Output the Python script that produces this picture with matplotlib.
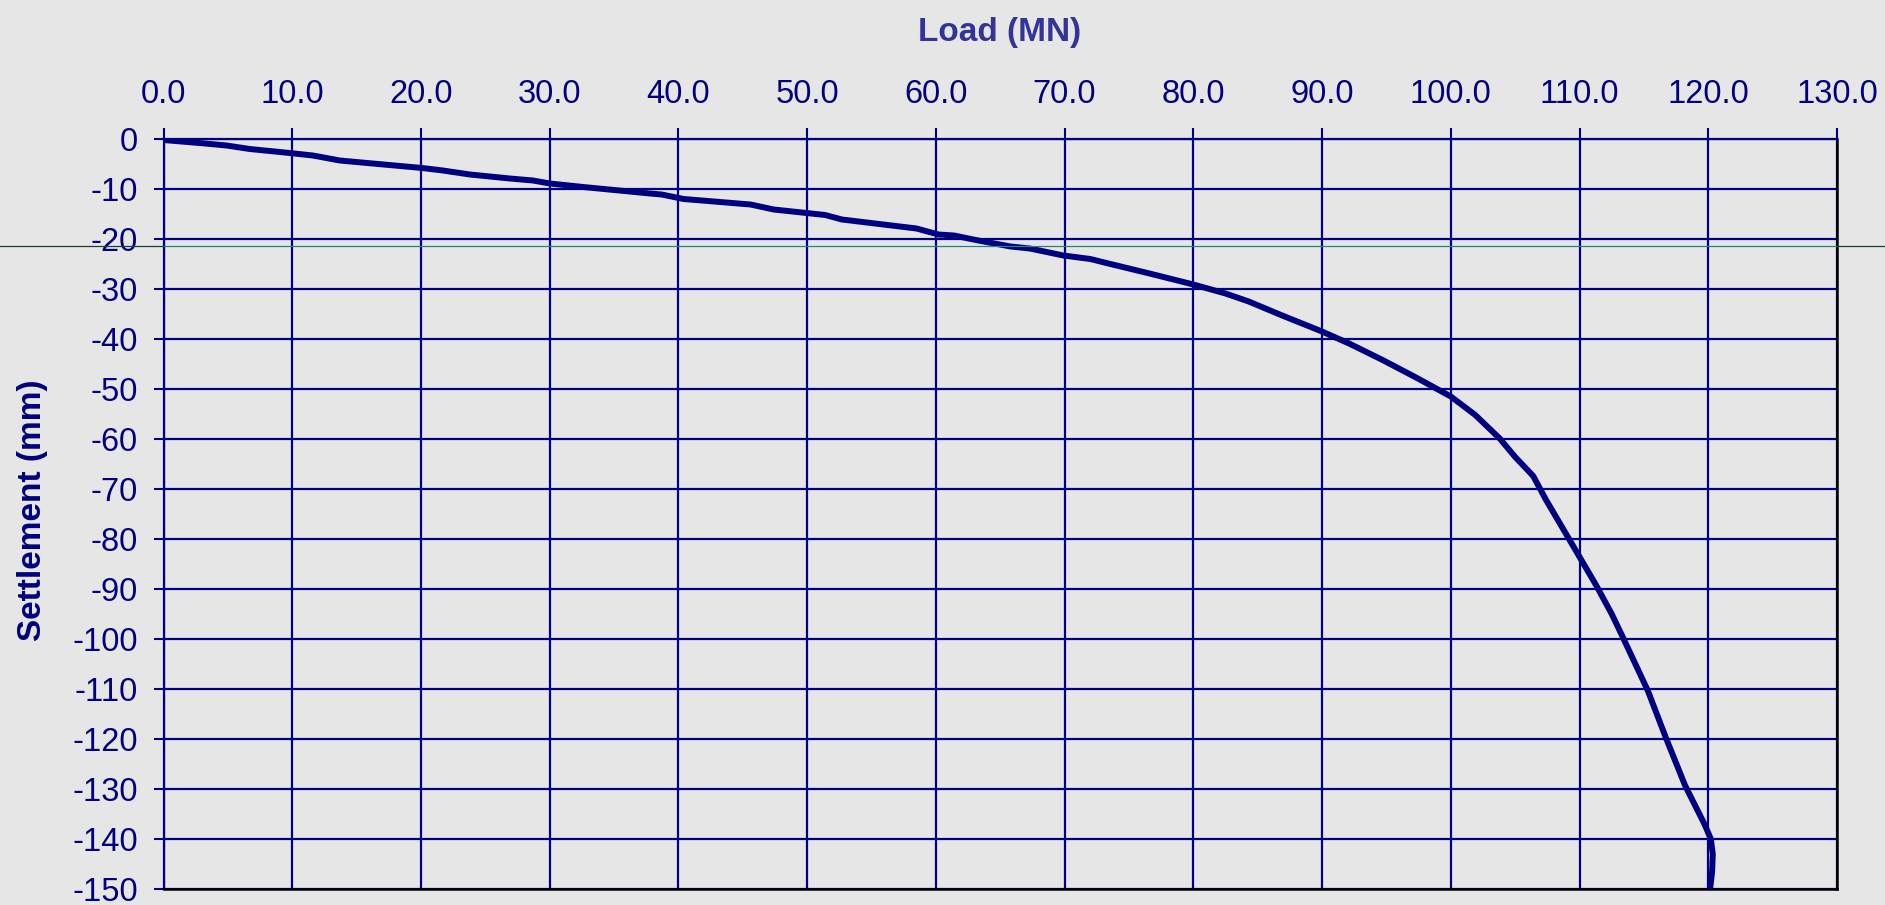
import matplotlib
matplotlib.use("Agg")
import matplotlib.pyplot as plt
from matplotlib.lines import Line2D
from matplotlib.ticker import FixedLocator, FuncFormatter

# ---- data ----
load_mn = [0.0, 2.8, 4.9, 6.7, 9.8, 11.6, 13.7, 17.1, 20.1, 21.7, 23.8, 26.9, 28.7,
           30.0, 32.6, 37.8, 38.7, 40.4, 45.6, 47.4, 51.4, 52.7, 58.5, 60.2, 61.4,
           63.3, 65.8, 67.3, 69.9, 72.0, 73.4, 76.6, 80.0, 82.5, 84.3, 86.9, 89.9,
           92.1, 94.7, 97.3, 100.0, 101.9, 103.8, 105.0, 106.4, 107.4, 108.5, 109.8,
           111.3, 112.5, 113.3, 115.3, 116.7, 118.2, 119.7, 120.2, 120.35, 120.3, 120.1]
settlement_mm = [-0.2, -0.8, -1.3, -2.0, -2.8, -3.3, -4.3, -5.1, -5.8, -6.3, -7.1, -7.9,
                 -8.3, -8.9, -9.6, -10.9, -11.1, -12.0, -13.1, -14.1, -15.2, -16.1,
                 -17.9, -19.1, -19.3, -20.3, -21.5, -21.9, -23.3, -24.0, -24.9, -26.9,
                 -29.1, -30.9, -32.5, -35.3, -38.4, -40.9, -44.2, -47.7, -51.5, -55.2,
                 -59.9, -63.6, -67.4, -72.2, -77.0, -82.7, -89.3, -95.0, -99.3, -110.3,
                 -119.7, -129.3, -137.0, -140.0, -143.0, -146.5, -151.0]
x_ticks = [0, 10, 20, 30, 40, 50, 60, 70, 80, 90, 100, 110, 120, 130]
y_ticks = [0, -10, -20, -30, -40, -50, -60, -70, -80, -90, -100, -110, -120, -130, -140, -150]
x_label = "Load (MN)"
y_label = "Settlement (mm)"

NAVY = "#000080"
BG = "#e6e6e6"
W, H = 1885, 905

plt.rcParams["font.family"] = ["Liberation Sans", "DejaVu Sans"]
fig = plt.figure(figsize=(W / 100, H / 100), dpi=100, facecolor=BG)
ax = fig.add_axes([163.5 / W, 1 - 889 / H, (1837 - 163.5) / W, (889 - 139) / H])
ax.set_facecolor(BG)

ax.plot(load_mn, settlement_mm, color=NAVY, lw=4.3, solid_joinstyle="round",
        solid_capstyle="butt", zorder=5)

ax.set_xlim(0, 130)
ax.set_ylim(-150, 0)
ax.xaxis.set_major_locator(FixedLocator(x_ticks))
ax.yaxis.set_major_locator(FixedLocator(y_ticks))
ax.xaxis.set_major_formatter(FuncFormatter(lambda v, p: f"{v:.1f}"))
ax.yaxis.set_major_formatter(FuncFormatter(lambda v, p: str(int(round(v)))))
ax.xaxis.tick_top()
ax.tick_params(axis="x", which="both", top=True, bottom=False, labeltop=True,
               labelbottom=False, direction="out", length=8, width=1.5,
               color=NAVY, labelcolor=NAVY, labelsize=23.5, pad=13)
ax.tick_params(axis="y", direction="out", length=7.5, width=1.5, color=NAVY,
               labelcolor=NAVY, labelsize=23.5, pad=11)

ax.grid(True, color=NAVY, lw=1.6, zorder=1)
ax.set_axisbelow(True)
for s in ("left", "top"):
    ax.spines[s].set_color(NAVY)
    ax.spines[s].set_linewidth(1.6)
for s in ("right", "bottom"):
    ax.spines[s].set_color("black")
    ax.spines[s].set_linewidth(1.8)

fig.text(1000 / W, 1 - 41.5 / H, x_label, ha="center", va="baseline",
         fontsize=24, fontweight="bold", color="#333399")
fig.text(33 / W, 1 - 510 / H, y_label, ha="center", va="center", rotation=90,
         fontsize=24, fontweight="bold", color=NAVY)

# thin stray rule crossing the figure
yl = 1 - 246 / H
x0, x1 = 163.5 / W, 1837 / W
for xa, xb, c in ((0, x0, "#1f3b36"), (x0, x1, "#2a8080"), (x1, 1, "#1f3b36")):
    fig.add_artist(Line2D([xa, xb], [yl, yl], transform=fig.transFigure,
                          color=c, lw=0.9, zorder=3))

fig.savefig("out.png", dpi=100, facecolor=BG)
